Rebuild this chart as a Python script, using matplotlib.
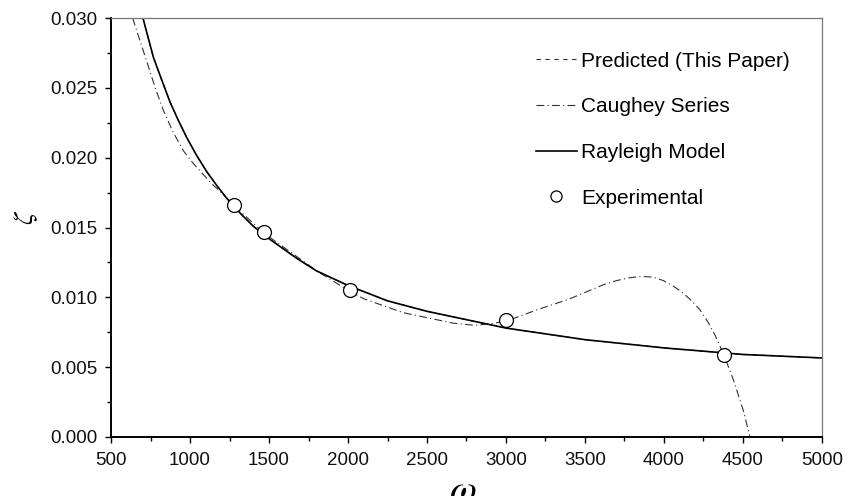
import matplotlib.pyplot as plt
from matplotlib.ticker import MultipleLocator, FormatStrFormatter

plt.rcParams['font.family'] = ['Liberation Sans', 'DejaVu Sans']
plt.rcParams['mathtext.fontset'] = 'stix'

# damping ratio vs frequency
rayleigh_w = [700, 735, 768, 820, 873, 925, 979, 1040, 1106, 1170, 1232, 1320,
              1400, 1500, 1675, 1800, 2000, 2250, 2500, 2750, 3000, 3500, 4000,
              4500, 5000]
rayleigh_z = [0.0301, 0.0286, 0.0272, 0.0256, 0.0240, 0.0227, 0.02145, 0.0202,
              0.0190, 0.0180, 0.0171, 0.0160, 0.0151, 0.0142, 0.0128, 0.0119,
              0.01085, 0.00975, 0.0090, 0.0084, 0.0078, 0.00697, 0.00638,
              0.00591, 0.00566]

predicted_w = rayleigh_w
predicted_z = rayleigh_z

caughey_w = [637, 680, 726, 780, 831, 890, 958, 1020, 1084, 1140, 1190, 1277,
             1468, 1802, 2015, 2100, 2350, 2519, 2667, 2800, 2900, 3000, 3100,
             3194, 3300, 3405, 3510, 3616, 3700, 3780, 3859, 3930, 3996, 4060,
             4122, 4180, 4228, 4280, 4323, 4382, 4439, 4502, 4544]
caughey_z = [0.0300, 0.0285, 0.0269, 0.0250, 0.0234, 0.0219, 0.0205, 0.0196,
             0.0188, 0.0181, 0.0176, 0.0166, 0.0146, 0.0119, 0.0104, 0.0099,
             0.0089, 0.0085, 0.00815, 0.0080, 0.0081, 0.0083, 0.0087, 0.0091,
             0.0095, 0.0099, 0.0104, 0.0109, 0.0112, 0.0114, 0.0115, 0.01145,
             0.0112, 0.0108, 0.0103, 0.0097, 0.0091, 0.0082, 0.0073, 0.0058,
             0.0041, 0.0019, 0.0]

exp_w = [1277, 1468, 2015, 3000, 4382]
exp_z = [0.0166, 0.01466, 0.0105, 0.00836, 0.00584]

fig = plt.figure(figsize=(8.54, 4.96), dpi=100)
ax = fig.add_axes([0.130, 0.119, 0.8325, 0.8445])

ax.plot(predicted_w, predicted_z, color='#333333', lw=0.8, ls=(0, (4, 4)),
        label='Predicted (This Paper)')
ax.plot(caughey_w, caughey_z, color='#333333', lw=0.8, ls=(0, (7, 3, 1, 3)),
        label='Caughey Series')
ax.plot(rayleigh_w, rayleigh_z, color='black', lw=1.2, label='Rayleigh Model')
ax.plot(exp_w, exp_z, ls='none', marker='o', ms=10, mfc='white', mec='black',
        mew=0.9, label='Experimental', zorder=5)

ax.set_xlim(500, 5000)
ax.set_ylim(0, 0.030)
ax.xaxis.set_major_locator(MultipleLocator(500))
ax.xaxis.set_minor_locator(MultipleLocator(250))
ax.yaxis.set_major_locator(MultipleLocator(0.005))
ax.yaxis.set_minor_locator(MultipleLocator(0.0025))
ax.yaxis.set_major_formatter(FormatStrFormatter('%.3f'))

ax.tick_params(which='both', direction='out', width=1.0, labelsize=13.5,
               top=False, right=False, labelcolor='#111111')
ax.tick_params(which='major', length=4)
ax.tick_params(which='minor', length=3)
ax.tick_params(axis='x', which='major', pad=7)
ax.tick_params(axis='y', which='major', pad=6)

for side in ['left', 'bottom']:
    ax.spines[side].set_linewidth(1.4)
    ax.spines[side].set_color('black')
for side in ['top', 'right']:
    ax.spines[side].set_linewidth(0.9)
    ax.spines[side].set_color('#777777')

ax.set_ylabel(r'$\zeta$', fontsize=20)
ax.yaxis.set_label_coords(-0.100, 0.523)
ax.set_xlabel(r'$\omega$', fontsize=28)
ax.xaxis.set_label_coords(0.495, -0.088)

ax.legend(loc='upper left', bbox_to_anchor=(0.598, 0.92), frameon=False,
          fontsize=15, handlelength=1.95, handletextpad=0.2, labelspacing=1.28,
          markerscale=0.8, borderpad=0, borderaxespad=0)

fig.savefig('out.png', dpi=100)
